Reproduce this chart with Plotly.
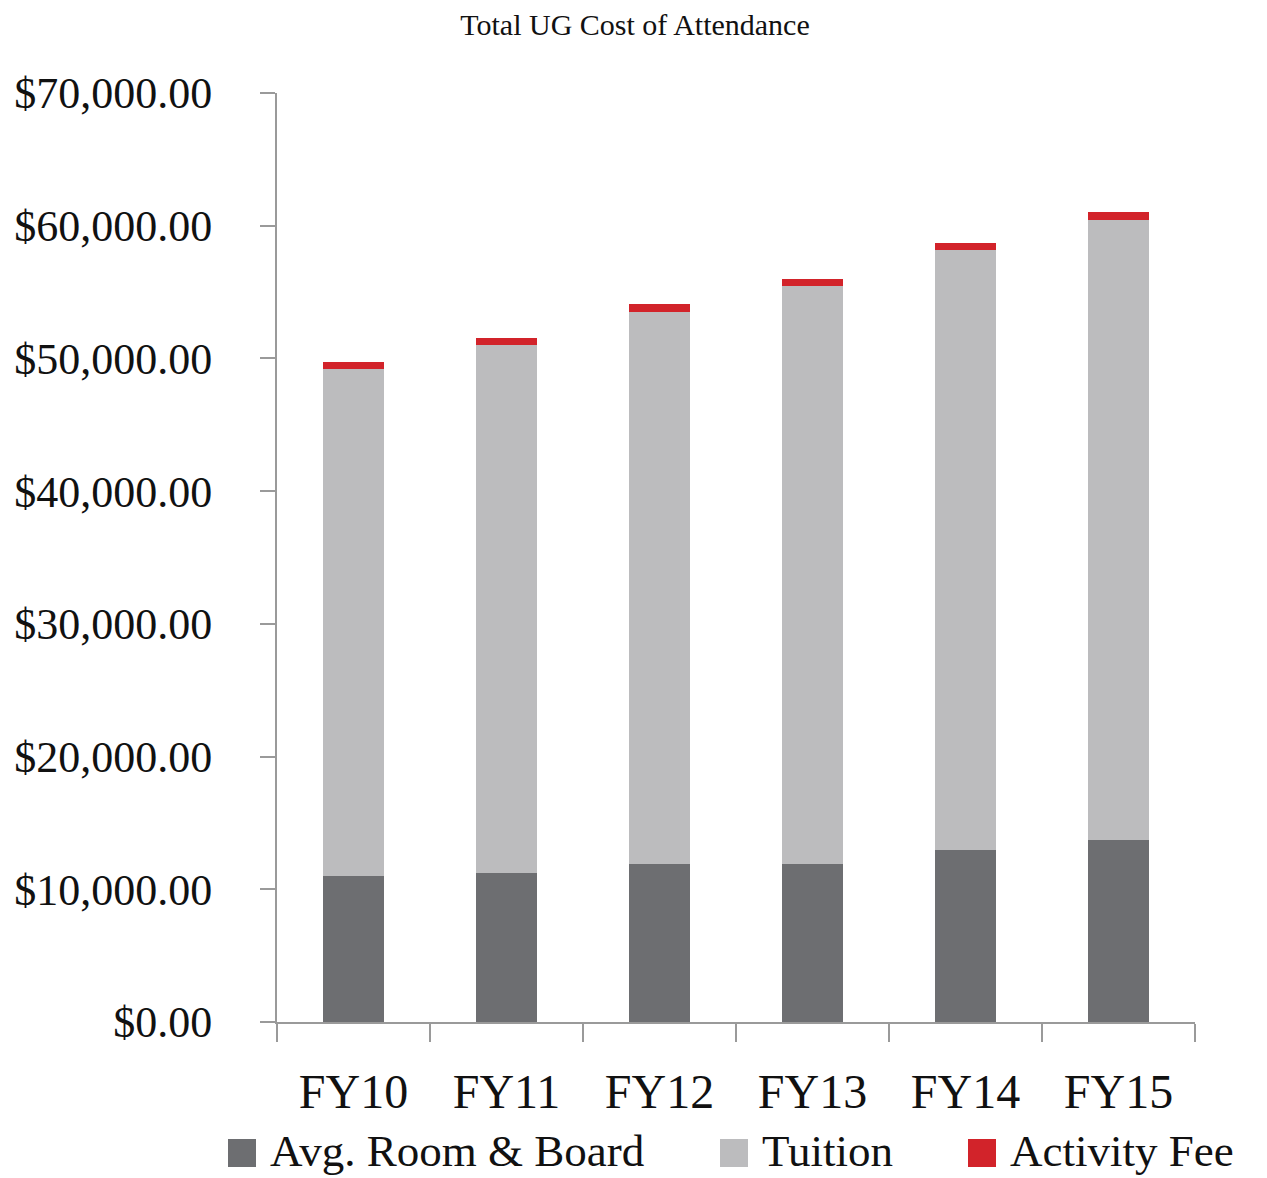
import plotly.graph_objects as go

categories = ["FY10", "FY11", "FY12", "FY13", "FY14", "FY15"]
room_board = [11000, 11200, 11930, 11930, 12980, 13710]
tuition = [38200, 39800, 41590, 43530, 45170, 46750]
activity_fee = [560, 530, 560, 550, 550, 550]

series_names = ["Avg. Room & Board", "Tuition", "Activity Fee"]
series_colors = ["#6d6e71", "#bcbcbe", "#d2232a"]
series_values = [room_board, tuition, activity_fee]

FONT = "Liberation Serif"
# page body has an 8px margin, so the figure is sized/offset to compensate
W, H = 1259, 1170
ML, MR, MT, MB = 269, 72, 85, 156
PW = W - ML - MR
PH = H - MT - MB

fig = go.Figure()
for name, color, vals in zip(series_names, series_colors, series_values):
    fig.add_trace(go.Bar(x=categories, y=vals, name=name, showlegend=False,
                         marker=dict(color=color, line=dict(width=0))))

# Manual legend (large square swatches like the reference)
legend_x = [220, 712, 960]   # pixel x of swatch left edges (figure coords)
legend_yc = 1143             # pixel y of legend centre (figure coords)
sw = 28
for lx, name, color in zip(legend_x, series_names, series_colors):
    fig.add_shape(type="rect", xref="paper", yref="paper",
                  x0=(lx - ML) / PW, x1=(lx + sw - ML) / PW,
                  y0=-(legend_yc + 2 + sw / 2 - (MT + PH)) / PH,
                  y1=-(legend_yc + 2 - sw / 2 - (MT + PH)) / PH,
                  fillcolor=color, line=dict(width=0))
    fig.add_annotation(text=name, xref="paper", yref="paper",
                       x=(lx + sw + 12 - ML) / PW,
                       y=-(legend_yc - (MT + PH)) / PH,
                       xanchor="left", yanchor="middle", showarrow=False,
                       font=dict(size=45, family=FONT, color="#111111"))

fig.update_layout(
    barmode="stack",
    bargap=0.6,
    width=W, height=H,
    paper_bgcolor="white", plot_bgcolor="white",
    font=dict(family=FONT, color="#111111"),
    margin=dict(l=ML, r=MR, t=MT, b=MB, autoexpand=False),
    title=dict(text="Total UG Cost of Attendance", x=(635 - 8) / W, xref="container",
               xanchor="center", y=1 - 16 / H, yref="container", yanchor="middle",
               font=dict(size=30, family=FONT, color="#111111")),
    showlegend=False,
    xaxis=dict(type="category", showline=True, linecolor="#9a9a9a", linewidth=2,
               ticks="outside", ticklen=18, tickwidth=2, tickcolor="#9a9a9a",
               tickson="boundaries", ticklabelstandoff=26, automargin=False,
               tickfont=dict(size=48, family=FONT, color="#111111"),
               showgrid=False, zeroline=False),
    yaxis=dict(range=[0, 70000], dtick=10000, tickformat="$,.2f",
               showline=True, linecolor="#9a9a9a", linewidth=2,
               ticks="outside", ticklen=15, tickwidth=2, tickcolor="#9a9a9a",
               ticklabelstandoff=39, automargin=False,
               tickfont=dict(size=44, family=FONT, color="#111111"),
               showgrid=False, zeroline=False),
)

fig.write_html("out.html")
